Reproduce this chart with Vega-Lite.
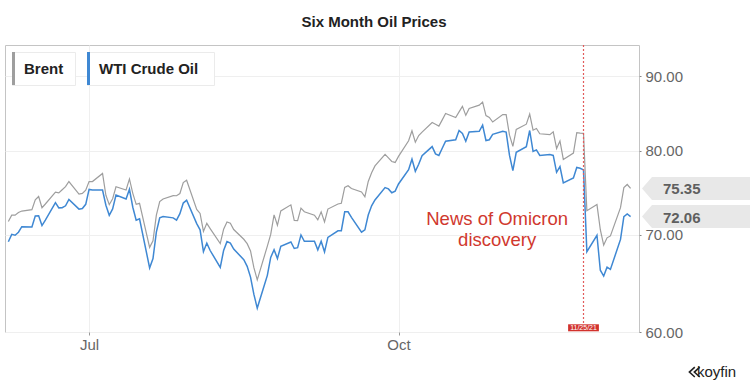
{
  "$schema": "https://vega.github.io/schema/vega-lite/v6.json",
  "width": 634,
  "height": 287,
  "autosize": "none",
  "padding": {"left": 5, "top": 45, "right": 111, "bottom": 55},
  "background": "white",
  "title": {
    "text": "Six Month Oil Prices",
    "anchor": "middle",
    "font": "Liberation Sans",
    "fontSize": 15,
    "fontWeight": "bold",
    "color": "#222222",
    "offset": 18,
    "dx": 52,
    "dy": 4
  },
  "datasets": {
    "prices": [
      {"date": "2021-06-07", "brent": 71.49, "wti": 69.23},
      {"date": "2021-06-08", "brent": 72.22, "wti": 70.05},
      {"date": "2021-06-09", "brent": 72.22, "wti": 69.96},
      {"date": "2021-06-10", "brent": 72.52, "wti": 70.29},
      {"date": "2021-06-11", "brent": 72.69, "wti": 70.91},
      {"date": "2021-06-14", "brent": 72.86, "wti": 70.88},
      {"date": "2021-06-15", "brent": 73.99, "wti": 72.12},
      {"date": "2021-06-16", "brent": 74.39, "wti": 72.15},
      {"date": "2021-06-17", "brent": 73.08, "wti": 71.04},
      {"date": "2021-06-18", "brent": 73.51, "wti": 71.64},
      {"date": "2021-06-21", "brent": 74.90, "wti": 73.66},
      {"date": "2021-06-22", "brent": 74.81, "wti": 73.06},
      {"date": "2021-06-23", "brent": 75.19, "wti": 73.08},
      {"date": "2021-06-24", "brent": 75.56, "wti": 73.30},
      {"date": "2021-06-25", "brent": 76.18, "wti": 74.05},
      {"date": "2021-06-28", "brent": 74.68, "wti": 72.91},
      {"date": "2021-06-29", "brent": 74.76, "wti": 72.98},
      {"date": "2021-06-30", "brent": 75.13, "wti": 73.47},
      {"date": "2021-07-01", "brent": 76.17, "wti": 75.23},
      {"date": "2021-07-02", "brent": 76.17, "wti": 75.16},
      {"date": "2021-07-05", "brent": 77.16, "wti": 75.16},
      {"date": "2021-07-06", "brent": 74.53, "wti": 73.37},
      {"date": "2021-07-07", "brent": 73.43, "wti": 72.20},
      {"date": "2021-07-08", "brent": 74.12, "wti": 72.94},
      {"date": "2021-07-09", "brent": 75.55, "wti": 74.56},
      {"date": "2021-07-12", "brent": 75.16, "wti": 74.10},
      {"date": "2021-07-13", "brent": 76.49, "wti": 75.25},
      {"date": "2021-07-14", "brent": 74.76, "wti": 73.13},
      {"date": "2021-07-15", "brent": 73.47, "wti": 71.65},
      {"date": "2021-07-16", "brent": 73.59, "wti": 71.81},
      {"date": "2021-07-19", "brent": 68.62, "wti": 66.42},
      {"date": "2021-07-20", "brent": 69.35, "wti": 67.42},
      {"date": "2021-07-21", "brent": 72.23, "wti": 70.30},
      {"date": "2021-07-22", "brent": 73.79, "wti": 71.91},
      {"date": "2021-07-23", "brent": 74.10, "wti": 72.07},
      {"date": "2021-07-26", "brent": 74.50, "wti": 71.91},
      {"date": "2021-07-27", "brent": 74.48, "wti": 71.65},
      {"date": "2021-07-28", "brent": 74.74, "wti": 72.39},
      {"date": "2021-07-29", "brent": 76.05, "wti": 73.62},
      {"date": "2021-07-30", "brent": 76.33, "wti": 73.95},
      {"date": "2021-08-02", "brent": 72.89, "wti": 71.26},
      {"date": "2021-08-03", "brent": 72.41, "wti": 70.56},
      {"date": "2021-08-04", "brent": 70.38, "wti": 68.15},
      {"date": "2021-08-05", "brent": 71.29, "wti": 69.09},
      {"date": "2021-08-06", "brent": 70.70, "wti": 68.28},
      {"date": "2021-08-09", "brent": 69.04, "wti": 66.48},
      {"date": "2021-08-10", "brent": 70.63, "wti": 68.29},
      {"date": "2021-08-11", "brent": 71.44, "wti": 69.25},
      {"date": "2021-08-12", "brent": 71.31, "wti": 69.09},
      {"date": "2021-08-13", "brent": 70.59, "wti": 68.44},
      {"date": "2021-08-16", "brent": 69.51, "wti": 67.29},
      {"date": "2021-08-17", "brent": 69.03, "wti": 66.59},
      {"date": "2021-08-18", "brent": 68.23, "wti": 65.46},
      {"date": "2021-08-19", "brent": 66.45, "wti": 63.69},
      {"date": "2021-08-20", "brent": 65.18, "wti": 62.32},
      {"date": "2021-08-23", "brent": 68.75, "wti": 65.64},
      {"date": "2021-08-24", "brent": 70.05, "wti": 67.54},
      {"date": "2021-08-25", "brent": 72.25, "wti": 68.36},
      {"date": "2021-08-26", "brent": 71.07, "wti": 67.42},
      {"date": "2021-08-27", "brent": 72.70, "wti": 68.74},
      {"date": "2021-08-30", "brent": 73.41, "wti": 69.21},
      {"date": "2021-08-31", "brent": 71.63, "wti": 68.50},
      {"date": "2021-09-01", "brent": 71.59, "wti": 68.59},
      {"date": "2021-09-02", "brent": 73.03, "wti": 69.99},
      {"date": "2021-09-03", "brent": 72.61, "wti": 69.29},
      {"date": "2021-09-06", "brent": 72.22, "wti": 69.29},
      {"date": "2021-09-07", "brent": 71.69, "wti": 68.35},
      {"date": "2021-09-08", "brent": 72.60, "wti": 69.30},
      {"date": "2021-09-09", "brent": 71.45, "wti": 68.14},
      {"date": "2021-09-10", "brent": 72.92, "wti": 69.72},
      {"date": "2021-09-13", "brent": 73.51, "wti": 70.45},
      {"date": "2021-09-14", "brent": 73.60, "wti": 70.46},
      {"date": "2021-09-15", "brent": 75.46, "wti": 72.61},
      {"date": "2021-09-16", "brent": 75.67, "wti": 72.61},
      {"date": "2021-09-17", "brent": 75.34, "wti": 71.97},
      {"date": "2021-09-20", "brent": 74.92, "wti": 70.29},
      {"date": "2021-09-21", "brent": 74.36, "wti": 70.56},
      {"date": "2021-09-22", "brent": 76.19, "wti": 72.23},
      {"date": "2021-09-23", "brent": 77.25, "wti": 73.30},
      {"date": "2021-09-24", "brent": 78.09, "wti": 73.98},
      {"date": "2021-09-27", "brent": 79.53, "wti": 75.45},
      {"date": "2021-09-28", "brent": 79.09, "wti": 75.29},
      {"date": "2021-09-29", "brent": 78.64, "wti": 74.83},
      {"date": "2021-09-30", "brent": 78.52, "wti": 75.03},
      {"date": "2021-10-01", "brent": 79.28, "wti": 75.88},
      {"date": "2021-10-04", "brent": 81.26, "wti": 77.62},
      {"date": "2021-10-05", "brent": 82.56, "wti": 78.93},
      {"date": "2021-10-06", "brent": 81.08, "wti": 77.43},
      {"date": "2021-10-07", "brent": 81.95, "wti": 78.30},
      {"date": "2021-10-08", "brent": 82.39, "wti": 79.35},
      {"date": "2021-10-11", "brent": 83.65, "wti": 80.52},
      {"date": "2021-10-12", "brent": 83.42, "wti": 79.60},
      {"date": "2021-10-13", "brent": 83.18, "wti": 79.40},
      {"date": "2021-10-14", "brent": 84.00, "wti": 80.30},
      {"date": "2021-10-15", "brent": 84.86, "wti": 81.20},
      {"date": "2021-10-18", "brent": 84.33, "wti": 81.40},
      {"date": "2021-10-19", "brent": 85.08, "wti": 82.60},
      {"date": "2021-10-20", "brent": 85.82, "wti": 82.20},
      {"date": "2021-10-21", "brent": 84.61, "wti": 81.20},
      {"date": "2021-10-22", "brent": 85.53, "wti": 82.40},
      {"date": "2021-10-25", "brent": 85.99, "wti": 82.50},
      {"date": "2021-10-26", "brent": 86.40, "wti": 83.30},
      {"date": "2021-10-27", "brent": 84.58, "wti": 81.30},
      {"date": "2021-10-28", "brent": 84.32, "wti": 81.40},
      {"date": "2021-10-29", "brent": 83.72, "wti": 82.10},
      {"date": "2021-11-01", "brent": 84.71, "wti": 82.50},
      {"date": "2021-11-02", "brent": 84.72, "wti": 82.40},
      {"date": "2021-11-03", "brent": 81.99, "wti": 79.40},
      {"date": "2021-11-04", "brent": 80.54, "wti": 77.50},
      {"date": "2021-11-05", "brent": 82.74, "wti": 79.80},
      {"date": "2021-11-08", "brent": 83.43, "wti": 80.50},
      {"date": "2021-11-09", "brent": 84.78, "wti": 82.60},
      {"date": "2021-11-10", "brent": 82.64, "wti": 79.90},
      {"date": "2021-11-11", "brent": 82.87, "wti": 80.10},
      {"date": "2021-11-12", "brent": 82.17, "wti": 79.40},
      {"date": "2021-11-15", "brent": 82.05, "wti": 79.50},
      {"date": "2021-11-16", "brent": 82.43, "wti": 79.40},
      {"date": "2021-11-17", "brent": 80.28, "wti": 77.30},
      {"date": "2021-11-18", "brent": 81.24, "wti": 78.00},
      {"date": "2021-11-19", "brent": 78.89, "wti": 76.00},
      {"date": "2021-11-22", "brent": 79.70, "wti": 76.60},
      {"date": "2021-11-23", "brent": 82.31, "wti": 77.90},
      {"date": "2021-11-24", "brent": 82.25, "wti": 77.80},
      {"date": "2021-11-25", "brent": 82.22, "wti": 77.60},
      {"date": "2021-11-26", "brent": 72.72, "wti": 68.15},
      {"date": "2021-11-29", "brent": 73.44, "wti": 69.95},
      {"date": "2021-11-30", "brent": 70.57, "wti": 66.18},
      {"date": "2021-12-01", "brent": 68.87, "wti": 65.57},
      {"date": "2021-12-02", "brent": 69.67, "wti": 66.50},
      {"date": "2021-12-03", "brent": 69.88, "wti": 66.26},
      {"date": "2021-12-06", "brent": 73.08, "wti": 69.49},
      {"date": "2021-12-07", "brent": 75.44, "wti": 72.05},
      {"date": "2021-12-08", "brent": 75.82, "wti": 72.36},
      {"date": "2021-12-09", "brent": 75.35, "wti": 72.06}
    ],
    "latest": [
      {"series": "Brent", "last": 75.35},
      {"series": "WTI Crude Oil", "last": 72.06}
    ],
    "events": [
      {"date": "2021-11-25", "label": "11/25/21"}
    ],
    "notes": [
      {"note": "News of Omicron\ndiscovery"}
    ]
  },
  "layer": [
    {
      "data": {"name": "prices"},
      "mark": {"type": "line", "strokeWidth": 1.2, "interpolate": "linear"},
      "encoding": {
        "x": {
          "field": "date",
          "type": "temporal",
          "scale": {"domain": [{"year": 2021, "month": 6, "date": 6}, {"year": 2021, "month": 12, "date": 11, "hours": 12}]},
          "axis": {
            "title": null,
            "values": [{"year": 2021, "month": 7, "date": 1}, {"year": 2021, "month": 10, "date": 1}],
            "format": "%b",
            "labelFont": "Liberation Sans",
            "labelFontSize": 15,
            "labelColor": "#666666",
            "tickSize": 3,
            "tickColor": "#999999",
            "labelPadding": 2,
            "domain": false,
            "grid": true,
            "gridColor": "#efefef"
          }
        },
        "y": {
          "field": "brent",
          "type": "quantitative",
          "scale": {"type": "log", "domain": [60, 94.6], "nice": false, "zero": false},
          "axis": {
            "orient": "right",
            "title": null,
            "values": [60, 70, 80, 90],
            "format": ".2f",
            "labelFont": "Liberation Sans",
            "labelFontSize": 15,
            "labelColor": "#666666",
            "tickSize": 2,
            "tickColor": "#888888",
            "labelPadding": 4,
            "domain": false,
            "grid": true,
            "gridColor": "#efefef"
          }
        },
        "color": {
          "datum": "Brent",
          "scale": {"range": ["#9e9e9e"]},
          "legend": {
            "title": null,
            "orient": "none",
            "legendX": 7,
            "legendY": 7,
            "padding": 0,
            "symbolType": "M-1,-1L-1,1",
            "symbolSize": 1156,
            "symbolStrokeWidth": 3,
            "clipHeight": 33,
            "labelOffset": -25,
            "labelFont": "Liberation Sans",
            "labelFontSize": 15,
            "labelFontWeight": "bold",
            "labelColor": "#222222",
            "fillColor": "white",
            "strokeColor": "#ebebeb",
            "labelExpr": "datum.label + '\u2800'"
          }
        }
      }
    },
    {
      "data": {"name": "prices"},
      "mark": {"type": "line", "strokeWidth": 1.5, "interpolate": "linear"},
      "encoding": {
        "x": {"field": "date", "type": "temporal"},
        "y": {"field": "wti", "type": "quantitative"},
        "color": {
          "datum": "WTI Crude Oil",
          "scale": {"range": ["#3f88d3"]},
          "legend": {
            "title": null,
            "orient": "none",
            "legendX": 82,
            "legendY": 7,
            "padding": 0,
            "symbolType": "M-1,-1L-1,1",
            "symbolSize": 1156,
            "symbolStrokeWidth": 3,
            "clipHeight": 33,
            "labelOffset": -25,
            "labelFont": "Liberation Sans",
            "labelFontSize": 15,
            "labelFontWeight": "bold",
            "labelColor": "#222222",
            "fillColor": "white",
            "strokeColor": "#ebebeb",
            "labelExpr": "datum.label + '\u00a0\u2800'"
          }
        }
      }
    },
    {
      "data": {"name": "events"},
      "mark": {"type": "rule", "stroke": "#e25b5b", "strokeWidth": 1.2, "strokeDash": [2, 2]},
      "encoding": {
        "x": {"field": "date", "type": "temporal"}
      }
    },
    {
      "data": {"name": "events"},
      "mark": {"type": "point", "shape": "M-2.2,-1.1L2.2,-1.1L2.2,-0.1L-2.2,-0.1Z", "size": 196, "filled": true, "color": "#d2322d", "opacity": 1, "strokeWidth": 0},
      "encoding": {
        "x": {"field": "date", "type": "temporal"},
        "y": {"value": "height"}
      }
    },
    {
      "data": {"name": "events"},
      "mark": {"type": "text", "font": "Liberation Sans", "fontSize": 7, "color": "white", "align": "center", "baseline": "middle", "dy": -4.5},
      "encoding": {
        "x": {"field": "date", "type": "temporal"},
        "y": {"value": "height"},
        "text": {"field": "label", "type": "nominal"}
      }
    },
    {
      "data": {"name": "notes"},
      "mark": {"type": "text", "font": "Liberation Sans", "fontSize": 18.5, "fill": "#d0382e", "align": "center", "baseline": "alphabetic", "lineHeight": 21, "lineBreak": "\n"},
      "encoding": {
        "x": {"datum": 1635580800000, "type": "temporal"},
        "y": {"datum": 71.1, "type": "quantitative"},
        "text": {"field": "note", "type": "nominal"}
      }
    },
    {
      "data": {"name": "latest"},
      "mark": {"type": "point", "shape": "M0.26,0L1.13,-1L9.7,-1L9.7,1L1.13,1Z", "size": 529, "filled": true, "color": "#e8e8e8", "opacity": 1, "strokeWidth": 0, "clip": false},
      "encoding": {
        "x": {"value": "width"},
        "y": {"field": "last", "type": "quantitative"}
      }
    },
    {
      "data": {"name": "latest"},
      "mark": {"type": "text", "font": "Liberation Sans", "fontSize": 15, "fontWeight": "bold", "color": "#5f5f5f", "align": "left", "baseline": "middle", "dx": 24, "dy": 1},
      "encoding": {
        "x": {"value": "width"},
        "y": {"field": "last", "type": "quantitative"},
        "text": {"field": "last", "type": "quantitative", "format": ".2f"}
      }
    },
    {
      "data": {"values": [{"brand": "koyfin"}]},
      "mark": {"type": "text", "font": "Liberation Sans", "fontSize": 15, "color": "#222222", "align": "left", "baseline": "middle", "dx": 58, "dy": 40},
      "encoding": {
        "x": {"value": "width"},
        "y": {"value": "height"},
        "text": {"field": "brand", "type": "nominal"}
      }
    },
    {
      "data": {"values": [{"brand": "koyfin"}]},
      "mark": {"type": "point", "shape": "M12.4,7.8L11.2,8.9L12.4,10M13.5,7.8L12.3,8.9L13.5,10", "size": 81, "filled": false, "color": "#222222", "strokeWidth": 1.6, "opacity": 1},
      "encoding": {
        "x": {"value": "width"},
        "y": {"value": "height"}
      }
    }
  ],
  "resolve": {"scale": {"color": "independent"}},
  "config": {
    "view": {"stroke": "#c4c4c4", "strokeWidth": 1},
    "axis": {"labelFont": "Liberation Sans"}
  }
}
